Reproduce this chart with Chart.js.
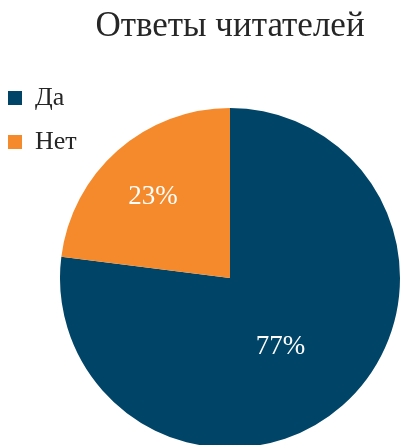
<!DOCTYPE html>
<html>
<head>
<meta charset="utf-8">
<script src="https://cdn.jsdelivr.net/npm/chart.js@4"></script>
<style>
  html, body { margin: 0; padding: 0; background: #fff; overflow: hidden; }
</style>
</head>
<body>
<canvas id="pieChart" width="401" height="489"></canvas>
<script>
const labels = ['Да', 'Нет'];
const values = [77, 23];
const colors = ['#004567', '#F58A2C'];
// where each slice label sits: fraction of radius, and a small turn in degrees
const labelRadius = [0.5, 0.66];
const labelTurn = [5, -2];

const serif = '"Liberation Serif", serif';
const textColor = '#262626';

const sliceLabels = {
    id: 'sliceLabels',
    afterDatasetsDraw(chart) {
        const ctx = chart.ctx;
        const meta = chart.getDatasetMeta(0);
        ctx.save();
        ctx.font = '27px ' + serif;
        ctx.fillStyle = '#ffffff';
        ctx.textAlign = 'center';
        ctx.textBaseline = 'middle';
        meta.data.forEach((arc, i) => {
            const {x, y, startAngle, endAngle, outerRadius} =
                arc.getProps(['x', 'y', 'startAngle', 'endAngle', 'outerRadius'], true);
            const mid = (startAngle + endAngle) / 2 + labelTurn[i] * Math.PI / 180;
            const r = outerRadius * labelRadius[i];
            ctx.fillText(values[i] + '%', x + Math.cos(mid) * r, y + Math.sin(mid) * r);
        });
        ctx.restore();
    }
};

new Chart(document.getElementById('pieChart'), {
    type: 'pie',
    data: {
        labels: labels,
        datasets: [{
            data: values,
            backgroundColor: colors,
            borderWidth: 0,
            hoverBorderWidth: 0,
            hoverOffset: 0,
            clip: false
        }]
    },
    options: {
        responsive: false,
        animation: false,
        devicePixelRatio: 1,
        radius: 170,
        layout: {
            padding: {top: 0, left: -10, right: 21, bottom: 0}
        },
        plugins: {
            title: {
                display: true,
                fullSize: false,
                text: 'Ответы читателей',
                color: textColor,
                font: {family: serif, size: 35, weight: 'normal'},
                padding: {top: 6, bottom: 19}
            },
            legend: {
                position: 'left',
                align: 'start',
                fullSize: false,
                maxWidth: 90,
                labels: {
                    boxWidth: 14,
                    boxHeight: 14,
                    padding: 18,
                    color: textColor,
                    font: {family: serif, size: 26}
                }
            },
            tooltip: {enabled: false}
        }
    },
    plugins: [sliceLabels]
});
</script>
</body>
</html>
